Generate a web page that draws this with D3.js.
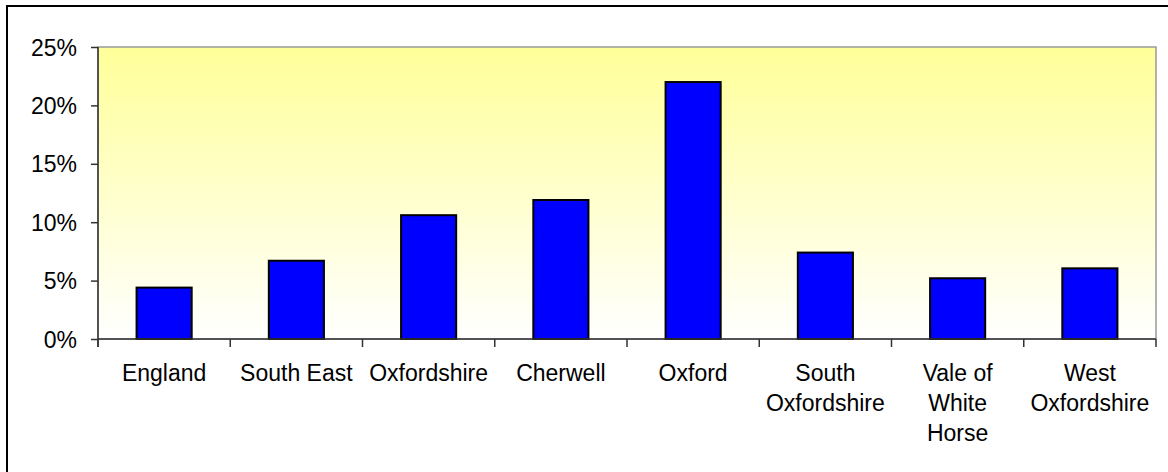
<!DOCTYPE html>
<html>
<head>
<meta charset="utf-8">
<script src="https://cdn.jsdelivr.net/npm/d3@7"></script>
<style>
  body { margin: 0; background: #fff; }
  svg text { font-family: "Liberation Sans", Arial, sans-serif; fill: #000; }
</style>
</head>
<body>
<div id="chart"></div>
<script>
// categories and values (share)
var categories = ["England", "South East", "Oxfordshire", "Cherwell", "Oxford",
  "South Oxfordshire", "Vale of White Horse", "West Oxfordshire"];
var labelLines = [["England"], ["South East"], ["Oxfordshire"], ["Cherwell"], ["Oxford"],
  ["South", "Oxfordshire"], ["Vale of", "White", "Horse"], ["West", "Oxfordshire"]];
var values = [0.044, 0.067, 0.106, 0.119, 0.220, 0.074, 0.052, 0.0605];
var yTicks = [0, 0.05, 0.10, 0.15, 0.20, 0.25];

var width = 1168, height = 472;
var plot = { left: 98, top: 47, right: 1156, bottom: 339 };

var svg = d3.select("#chart").append("svg")
  .attr("width", width)
  .attr("height", height);

// outer chart frame (only top/left visible in the picture)
svg.append("rect")
  .attr("x", 7).attr("y", 6)
  .attr("width", 1200).attr("height", 500)
  .attr("fill", "#fff")
  .attr("stroke", "#000")
  .attr("stroke-width", 2);

var defs = svg.append("defs");
var grad = defs.append("linearGradient")
  .attr("id", "bg").attr("x1", 0).attr("y1", 0).attr("x2", 0).attr("y2", 1);
grad.append("stop").attr("offset", "0%").attr("stop-color", "#ffff99");
grad.append("stop").attr("offset", "100%").attr("stop-color", "#ffffff");

var x = d3.scaleBand()
  .domain(categories)
  .range([plot.left, plot.right])
  .paddingInner(1 - 1 / 2.4)
  .paddingOuter((1 - 1 / 2.4) / 2);

var y = d3.scaleLinear()
  .domain([0, 0.25])
  .range([plot.bottom, plot.top]);

// plot area background
svg.append("rect")
  .attr("x", plot.left).attr("y", plot.top)
  .attr("width", plot.right - plot.left)
  .attr("height", plot.bottom - plot.top)
  .attr("fill", "url(#bg)")
  .attr("stroke", "#999")
  .attr("stroke-width", 1.5);

// bars
svg.selectAll("rect.bar")
  .data(values)
  .enter().append("rect")
  .attr("class", "bar")
  .attr("x", function(d, i) { return x(categories[i]); })
  .attr("y", function(d) { return y(d); })
  .attr("width", x.bandwidth())
  .attr("height", function(d) { return y(0) - y(d); })
  .attr("fill", "#0000ff")
  .attr("stroke", "#000")
  .attr("stroke-width", 2);

// y axis
var yAxis = d3.axisLeft(y)
  .tickValues(yTicks)
  .tickSize(7)
  .tickPadding(14)
  .tickFormat(d3.format(".0%"));
var gy = svg.append("g")
  .attr("transform", "translate(" + plot.left + ",0)")
  .call(yAxis);
gy.select(".domain").attr("stroke", "#333").attr("stroke-width", 1.5)
  .attr("d", "M0," + plot.top + "V" + (plot.bottom + 8));
gy.selectAll(".tick line").attr("stroke", "#333").attr("stroke-width", 1.5);
gy.selectAll(".tick text")
  .style("font-size", "23px")
  .attr("dy", "0.35em");

// x axis line + boundary ticks
var step = x.step();
var bounds = d3.range(categories.length + 1).map(function(i) { return plot.left + i * step; });
svg.append("line")
  .attr("x1", plot.left).attr("x2", plot.right)
  .attr("y1", plot.bottom).attr("y2", plot.bottom)
  .attr("stroke", "#333").attr("stroke-width", 1.5);
svg.selectAll("line.xtick")
  .data(bounds)
  .enter().append("line")
  .attr("class", "xtick")
  .attr("x1", function(d) { return d; }).attr("x2", function(d) { return d; })
  .attr("y1", plot.bottom).attr("y2", plot.bottom + 8)
  .attr("stroke", "#333").attr("stroke-width", 1.5);

// category labels
var labels = svg.selectAll("text.xlab")
  .data(labelLines)
  .enter().append("text")
  .attr("class", "xlab")
  .attr("text-anchor", "middle")
  .style("font-size", "23px")
  .attr("transform", function(d, i) {
    return "translate(" + (x(categories[i]) + x.bandwidth() / 2) + ",381)";
  });
labels.selectAll("tspan")
  .data(function(d) { return d; })
  .enter().append("tspan")
  .attr("x", 0)
  .attr("y", function(d, j) { return j * 30; })
  .text(function(d) { return d; });
</script>
</body>
</html>
